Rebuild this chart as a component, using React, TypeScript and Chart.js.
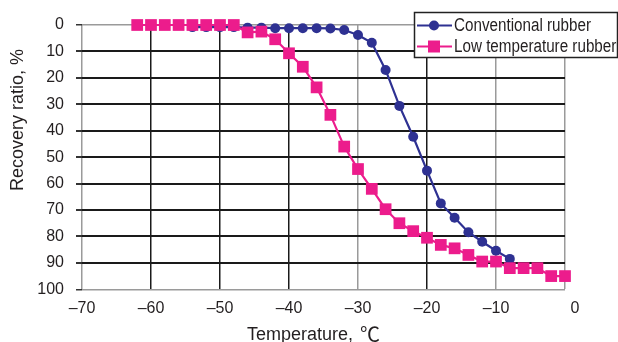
import React, { useEffect, useRef } from "react";
import { Chart, registerables } from "chart.js";

Chart.register(...registerables);

const conventionalTemps = [-54, -52, -50, -48, -46, -44, -42, -40, -38, -36, -34, -32, -30, -28, -26, -24, -22, -20, -18, -16, -14, -12, -10, -8];
const conventionalValues = [0.8, 0.8, 0.8, 0.8, 1, 1, 1.2, 1.2, 1.2, 1.2, 1.3, 1.9, 3.8, 6.7, 17, 30.6, 42.3, 55.1, 67.5, 72.9, 78.4, 82, 85.4, 88.5];

const lowTemps = [-62, -60, -58, -56, -54, -52, -50, -48, -46, -44, -42, -40, -38, -36, -34, -32, -30, -28, -26, -24, -22, -20, -18, -16, -14, -12, -10, -8, -6, -4, -2, 0];
const lowValues = [0, 0, 0, 0, 0, 0, 0, 0, 2.8, 2.5, 5.4, 10.7, 15.8, 23.6, 34, 46, 54.5, 62, 69.7, 75, 78, 80.5, 83.2, 84.5, 87, 89.5, 89.5, 92, 92, 92, 95, 95];

const xTickValues = [-70, -60, -50, -40, -30, -20, -10, 0];
const xTickLabels = ["\u201370", "\u201360", "\u201350", "\u201340", "\u201330", "\u201320", "\u201310", "0"];
const darkVerticals = [-60, -50, -40, -20];

const seriesNames = ["Conventional rubber", "Low temperature rubber"];
const xTitleText = "Temperature, ";
const xTitleUnit = "\u2103";
const yTitle = "Recovery ratio, %";

const BLUE = "#2E3192";
const PINK = "#EC1C8C";
const TEXT = "#231F20";
const GRAY = "#9a9a9a";
const DARK = "#1a1a1a";
const FONT = "'Liberation Sans', Arial, sans-serif";
const CJK = "'Noto Sans CJK JP', 'Noto Sans CJK SC', sans-serif";

const overlayPlugin = {
  id: "overlay",
  afterDraw(chart: any) {
    const ctx = chart.ctx as CanvasRenderingContext2D;
    const xs = chart.scales.x;
    const area = chart.chartArea;
    ctx.save();
    // x tick labels
    ctx.fillStyle = TEXT;
    ctx.font = `16px ${FONT}`;
    ctx.textAlign = "center";
    ctx.textBaseline = "middle";
    xTickValues.forEach((v, i) => {
      const px = xs.getPixelForValue(v) + (v === 0 ? 10 : 0);
      ctx.fillText(xTickLabels[i], px, area.bottom + 19);
    });
    // x title
    ctx.font = `18px ${FONT}`;
    ctx.textAlign = "left";
    const tw = ctx.measureText(xTitleText).width;
    ctx.fillText(xTitleText, 247, area.bottom + 46);
    ctx.font = `20px ${CJK}`;
    ctx.fillText(xTitleUnit, 247 + tw + 2, area.bottom + 45);
    // y title
    ctx.font = `18px ${FONT}`;
    ctx.textAlign = "center";
    ctx.save();
    ctx.translate(18, 120);
    ctx.rotate(-Math.PI / 2);
    ctx.fillText(yTitle, 0, 0);
    ctx.restore();
    // legend
    const lx = 414.5, ly = 12.5, lw = 203, lh = 45;
    ctx.fillStyle = "#fff";
    ctx.fillRect(lx, ly, lw, lh);
    ctx.strokeStyle = "#222";
    ctx.lineWidth = 1.5;
    ctx.strokeRect(lx, ly, lw, lh);
    const rows = [
      { name: seriesNames[0], color: BLUE, y: 25.5, shape: "circle" },
      { name: seriesNames[1], color: PINK, y: 46.5, shape: "rect" },
    ];
    rows.forEach((r) => {
      ctx.strokeStyle = r.color;
      ctx.lineWidth = 2;
      ctx.beginPath();
      ctx.moveTo(417, r.y);
      ctx.lineTo(452, r.y);
      ctx.stroke();
      ctx.fillStyle = r.color;
      if (r.shape === "circle") {
        ctx.beginPath();
        ctx.arc(434, r.y, 5, 0, Math.PI * 2);
        ctx.fill();
      } else {
        ctx.fillRect(428, r.y - 6, 12, 12);
      }
      ctx.fillStyle = TEXT;
      ctx.font = `18px ${FONT}`;
      ctx.textAlign = "left";
      ctx.textBaseline = "middle";
      ctx.save();
      ctx.translate(454, r.y + 1);
      ctx.scale(0.845, 1);
      ctx.fillText(r.name, 0, 0);
      ctx.restore();
    });
    ctx.restore();
  },
};

export default function App() {
  const ref = useRef<HTMLCanvasElement | null>(null);
  useEffect(() => {
    document.body.style.margin = "0";
    document.body.style.background = "#fff";
    const canvas = ref.current!;
    const chart = new Chart(canvas, {
      type: "line",
      data: {
        datasets: [
          {
            label: seriesNames[0],
            data: conventionalTemps.map((t, i) => ({ x: t, y: conventionalValues[i] })),
            borderColor: BLUE,
            backgroundColor: BLUE,
            borderWidth: 2.2,
            pointStyle: "circle",
            pointRadius: 5,
            pointBorderWidth: 0,
            order: 1,
            clip: false as any,
          },
          {
            label: seriesNames[1],
            data: lowTemps.map((t, i) => ({ x: t, y: lowValues[i] })),
            borderColor: PINK,
            backgroundColor: PINK,
            borderWidth: 2.2,
            pointStyle: "rect",
            pointRadius: 8.3,
            pointBorderWidth: 0,
            order: 0,
            clip: false as any,
          },
        ],
      },
      plugins: [overlayPlugin],
      options: {
        animation: false,
        responsive: true,
        maintainAspectRatio: false,
        layout: { padding: { top: 25, right: 53, left: 0, bottom: 0 } },
        plugins: { legend: { display: false }, tooltip: { enabled: false } },
        scales: {
          x: {
            type: "linear",
            min: -70,
            max: 0,
            afterFit: (s: any) => { s.height = 52.7; },
            afterBuildTicks: (s: any) => { s.ticks = xTickValues.map((v) => ({ value: v })); },
            ticks: { display: false },
            border: { display: false },
            grid: {
              drawTicks: false,
              color: (c: any) => (darkVerticals.includes(c.tick?.value) ? DARK : GRAY),
              lineWidth: 1.5,
            },
          },
          y: {
            type: "linear",
            reverse: true,
            min: 0,
            max: 100,
            afterFit: (s: any) => { s.width = 82; },
            ticks: {
              stepSize: 10,
              padding: 12,
              color: TEXT,
              font: { size: 16, family: FONT },
            },
            border: { display: false },
            grid: {
              tickLength: 6,
              tickColor: "#333",
              color: (c: any) => (c.tick?.value === 0 || c.tick?.value === 100 ? GRAY : DARK),
              lineWidth: (c: any) => (c.tick?.value === 0 || c.tick?.value === 100 ? 1.5 : 2),
            },
          },
        },
      },
    });
    return () => chart.destroy();
  }, []);
  return (
    <div style={{ width: 618, height: 342, position: "relative" }}>
      <canvas ref={ref} />
    </div>
  );
}
